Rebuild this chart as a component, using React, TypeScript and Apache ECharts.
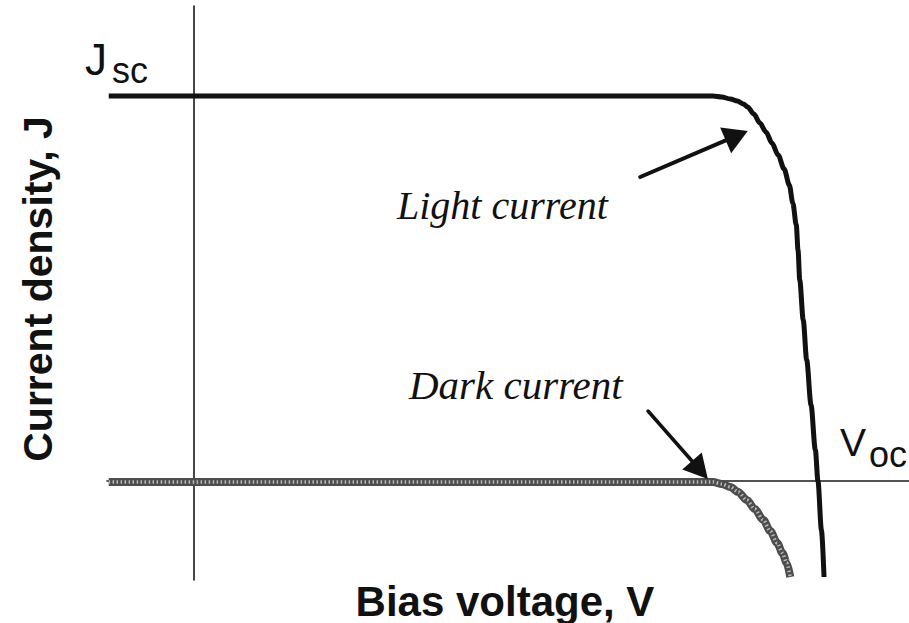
import { useEffect, useRef } from "react";
import * as echarts from "echarts";

// Bias voltage (V) and current density (mA/cm²) under illumination
const lightV = [-0.098, 0.584, 0.599, 0.609, 0.619, 0.627, 0.634, 0.639, 0.646, 0.653, 0.66, 0.667, 0.674, 0.681, 0.687, 0.691, 0.695, 0.697, 0.699, 0.703, 0.707, 0.712, 0.717, 0.72, 0.724, 0.727];
const lightJ = [38.5, 38.5, 38.5, 38.4, 38.2, 38.0, 37.7, 37.4, 36.7, 35.8, 34.9, 33.8, 32.6, 31.2, 29.6, 27.8, 25.6, 23.1, 20.1, 16.1, 12.1, 7.6, 3.1, 0, -4.9, -9.6];

// Same device in the dark
const darkV = [-0.098, 0.599, 0.609, 0.619, 0.628, 0.638, 0.647, 0.657, 0.665, 0.673, 0.679, 0.684, 0.688];
const darkJ = [-0.1, -0.1, -0.3, -0.6, -1.1, -1.9, -2.8, -3.9, -5.0, -6.2, -7.2, -8.2, -9.6];

// Call-out arrows: [V, J] of the tail and of the tip
const lightArrowTail = [0.515, 30.4];
const lightArrowTip = [0.639, 35.0];
const darkArrowTail = [0.524, 7.0];
const darkArrowTip = [0.593, 0.2];

// Axis extents
const vRange = [-0.1, 0.825];
const jRange = [-9.9, 47.5];

const SANS = "'Liberation Sans', Arial, sans-serif";
const SERIF = "'Liberation Serif', 'Times New Roman', serif";

const zip = (xs: number[], ys: number[]) => xs.map((x, i) => [x, ys[i]]);

export default function App() {
  const ref = useRef<HTMLDivElement>(null);

  useEffect(() => {
    if (!ref.current) return;
    const chart = echarts.init(ref.current, null, { renderer: "svg" });

    chart.setOption({
      animation: false,
      backgroundColor: "#ffffff",
      grid: { left: 107, right: 0, top: 6, bottom: 43, containLabel: false },
      xAxis: {
        type: "value",
        min: vRange[0],
        max: vRange[1],
        axisLine: { onZero: true, lineStyle: { color: "#1a1a1a", width: 1.6 } },
        axisTick: { show: false },
        axisLabel: { show: false },
        splitLine: { show: false },
      },
      yAxis: {
        type: "value",
        min: jRange[0],
        max: jRange[1],
        axisLine: { show: true, onZero: true, lineStyle: { color: "#1a1a1a", width: 1.6 } },
        axisTick: { show: false },
        axisLabel: { show: false },
        splitLine: { show: false },
      },
      series: [
        {
          name: "Dark current",
          type: "line",
          data: zip(darkV, darkJ),
          showSymbol: false,
          smooth: 0.3,
          smoothMonotone: "x",
          lineStyle: { color: "#4d4d4d", width: 8, cap: "butt" },
          z: 3,
        },
        {
          name: "Dark current texture",
          type: "line",
          data: zip(darkV, darkJ),
          showSymbol: false,
          smooth: 0.3,
          smoothMonotone: "x",
          lineStyle: { color: "#b8b8b8", width: 3.5, type: [1.5, 2.5], cap: "butt" },
          z: 4,
        },
        {
          name: "Light current",
          type: "line",
          data: zip(lightV, lightJ),
          showSymbol: false,
          smooth: 0.3,
          smoothMonotone: "x",
          lineStyle: { color: "#111111", width: 5, cap: "butt", join: "round" },
          z: 5,
        },
      ],
    });

    // Arrows are placed from data coordinates through the grid's scales
    const arrow = (tail: number[], tip: number[], len: number, wid: number, lw: number) => {
      const a = chart.convertToPixel({ gridIndex: 0 }, tail) as number[];
      const b = chart.convertToPixel({ gridIndex: 0 }, tip) as number[];
      const dx = b[0] - a[0];
      const dy = b[1] - a[1];
      const d = Math.hypot(dx, dy);
      const ux = dx / d;
      const uy = dy / d;
      const bx = b[0] - ux * len;
      const by = b[1] - uy * len;
      const nx = -uy;
      const ny = ux;
      return [
        {
          type: "line",
          shape: { x1: a[0], y1: a[1], x2: bx + ux * 2, y2: by + uy * 2 },
          style: { stroke: "#111", lineWidth: lw, lineCap: "round" },
          z: 10,
        },
        {
          type: "polygon",
          shape: {
            points: [
              [b[0], b[1]],
              [bx + (nx * wid) / 2, by + (ny * wid) / 2],
              [bx - (nx * wid) / 2, by - (ny * wid) / 2],
            ],
          },
          style: { fill: "#111" },
          z: 10,
        },
      ];
    };

    chart.setOption({
      graphic: [
        ...arrow(lightArrowTail, lightArrowTip, 24, 28, 4),
        ...arrow(darkArrowTail, darkArrowTip, 24, 26, 3.5),
        {
          type: "text",
          x: 85,
          y: 59,
          style: { text: "J", font: `44px ${SANS}`, fill: "#111", verticalAlign: "middle" },
          z: 10,
        },
        {
          type: "text",
          x: 112,
          y: 70,
          style: { text: "sc", font: `36px ${SANS}`, fill: "#111", verticalAlign: "middle" },
          z: 10,
        },
        {
          type: "text",
          x: 840,
          y: 442,
          style: { text: "V", font: `39px ${SANS}`, fill: "#111", verticalAlign: "middle" },
          z: 10,
        },
        {
          type: "text",
          x: 869,
          y: 454,
          style: { text: "oc", font: `36px ${SANS}`, fill: "#111", verticalAlign: "middle" },
          z: 10,
        },
        {
          type: "text",
          x: 397,
          y: 205,
          style: { text: "Light current", font: `italic 40px ${SERIF}`, fill: "#111", verticalAlign: "middle" },
          z: 10,
        },
        {
          type: "text",
          x: 409,
          y: 385,
          style: { text: "Dark current", font: `italic 41px ${SERIF}`, fill: "#111", verticalAlign: "middle" },
          z: 10,
        },
        {
          type: "text",
          x: 505,
          y: 601,
          style: { text: "Bias voltage, V", font: `bold 42px ${SANS}`, fill: "#111", align: "center", verticalAlign: "middle" },
          z: 10,
        },
        {
          type: "text",
          x: 38,
          y: 289,
          rotation: Math.PI / 2,
          style: { text: "Current density, J", font: `bold 41px ${SANS}`, fill: "#111", align: "center", verticalAlign: "middle" },
          z: 10,
        },
      ],
    });

    return () => chart.dispose();
  }, []);

  return (
    <div
      ref={ref}
      style={{ position: "fixed", left: 0, top: 0, width: 909, height: 623, background: "#fff" }}
    />
  );
}
